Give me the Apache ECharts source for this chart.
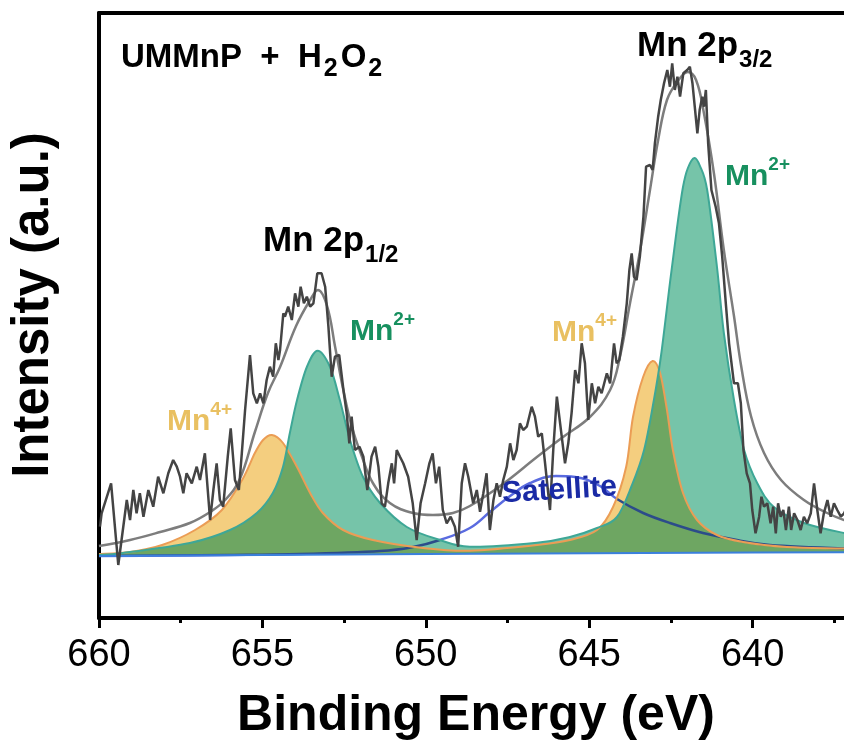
<!DOCTYPE html>
<html><head><meta charset="utf-8">
<script src="https://cdn.jsdelivr.net/npm/echarts/dist/echarts.min.js"></script>
<style>html,body{margin:0;padding:0;background:#fff}#c{width:844px;height:749px}</style>
</head><body><div id="c"></div>
<script>
// ---- data (binding energy eV, intensity a.u.) ----
const xTickValues = [660, 655, 650, 645, 640];
const baselineData = [[660,1220],[655,1240],[650,1260],[645,1275],[640,1290],[635,1300]];
const rawData = [[659.97,1806],[659.92,2074],[659.63,2674],[659.41,1040],[659.15,2340],[659.05,1940],[658.95,2540],[658.85,2074],[658.75,2474],[658.64,2006],[658.49,2540],[658.34,2206],[658.19,2806],[658.03,2474],[657.88,2874],[657.73,3140],[657.62,3006],[657.52,2806],[657.42,2474],[657.32,2874],[657.16,2674],[657.01,3006],[656.91,2740],[656.76,3274],[656.60,1940],[656.50,2540],[656.40,3074],[656.30,2340],[656.20,2206],[656.06,3206],[655.97,3774],[655.84,2740],[655.72,2540],[655.63,3274],[655.53,4140],[655.38,5240],[655.28,4474],[655.17,4274],[655.07,4474],[654.97,4274],[654.87,4740],[654.77,5006],[654.67,4806],[654.59,5474],[654.51,5140],[654.46,5340],[654.36,6074],[654.31,6006],[654.21,6206],[654.10,5940],[654.00,6474],[653.90,6206],[653.83,6606],[653.73,6274],[653.64,6406],[653.54,6206],[653.44,6274],[653.32,6874],[653.19,6874],[653.08,6606],[652.98,5806],[652.88,4806],[652.78,5206],[652.65,5240],[652.52,4540],[652.42,4074],[652.34,3474],[652.27,4006],[652.17,3340],[652.03,3406],[651.91,3206],[651.79,2540],[651.66,3206],[651.55,3406],[651.45,3006],[651.35,2274],[651.25,2206],[651.15,2674],[651.04,3074],[650.97,2674],[650.89,3340],[650.79,3206],[650.69,3074],[650.54,2806],[650.40,2274],[650.28,1540],[650.16,2274],[650.02,2674],[649.89,3074],[649.79,3274],[649.69,2674],[649.59,3006],[649.48,2140],[649.36,1874],[649.24,2006],[649.11,1806],[649.01,1406],[648.90,2674],[648.80,3074],[648.70,2806],[648.55,2274],[648.44,2540],[648.34,2106],[648.24,2474],[648.14,2874],[648.04,1740],[647.93,2340],[647.83,2674],[647.73,2406],[647.63,2740],[647.52,3006],[647.42,3474],[647.32,3140],[647.22,3340],[647.12,3874],[647.02,3740],[646.91,3806],[646.76,4206],[646.66,4006],[646.56,3606],[646.45,3674],[646.35,3074],[646.20,2140],[646.10,3340],[645.99,4406],[645.89,3874],[645.74,3074],[645.64,3474],[645.54,4074],[645.43,4940],[645.33,4674],[645.23,5474],[645.13,5074],[645.03,3940],[644.92,4674],[644.82,4274],[644.72,4606],[644.62,4474],[644.46,4874],[644.36,4674],[644.24,5474],[644.16,5074],[644.08,5140],[643.97,5606],[643.85,6274],[643.77,6940],[643.70,7274],[643.63,6806],[643.55,6740],[643.45,7206],[643.34,8006],[643.26,9006],[643.14,9040],[643.06,8940],[642.99,9474],[642.89,10006],[642.81,10340],[642.71,10674],[642.61,10940],[642.53,10606],[642.46,11074],[642.38,10540],[642.30,10806],[642.22,10406],[642.12,10874],[642.00,10940],[641.92,11006],[641.84,10674],[641.77,10206],[641.69,9674],[641.62,10140],[641.54,10406],[641.49,10206],[641.43,10540],[641.36,9474],[641.26,8540],[641.13,8206],[641.03,7874],[640.93,7206],[640.82,6274],[640.72,5474],[640.57,4674],[640.45,4674],[640.36,4274],[640.28,3340],[640.18,2874],[640.08,2674],[640.01,2140],[639.91,1674],[639.80,2006],[639.73,2406],[639.65,2206],[639.55,2274],[639.45,1874],[639.37,2206],[639.29,1674],[639.22,2274],[639.14,2006],[639.06,2140],[638.98,1740],[638.89,2206],[638.82,1740],[638.73,2074],[638.63,1940],[638.53,1740],[638.43,2006],[638.33,1874],[638.22,2074],[638.12,2674],[638.02,2140],[637.92,1674],[637.82,2074],[637.71,2340],[637.61,2006],[637.51,2274],[637.41,2140],[637.30,2006],[637.20,2074],[637.05,2300],[636.90,1950]];
const envelopeData = [[660.0,1420],[659.05,1540],[658.13,1700],[657.22,1880],[656.60,2100],[656.14,2340],[655.69,2760],[655.23,3700],[654.83,4480],[654.46,5000],[653.97,5820],[653.54,6340],[653.30,6540],[653.02,6220],[652.78,5420],[652.53,4560],[652.26,3800],[651.95,3200],[651.62,2680],[651.10,2280],[650.39,2080],[649.78,2040],[649.17,2080],[648.65,2220],[647.64,2660],[646.60,3200],[645.80,3600],[644.98,4000],[644.36,4540],[644.06,5200],[643.75,6280],[643.45,7300],[643.14,8540],[642.89,9540],[642.62,10340],[642.31,10700],[641.98,10900],[641.73,10740],[641.49,10080],[641.18,8860],[640.88,7340],[640.57,6020],[640.35,5020],[640.05,4020],[639.65,3280],[639.13,2740],[638.43,2340],[637.72,2080],[637.20,1940],[636.5,1800],[635.0,1650]];
const mn4Data = [[660.0,1260],[659.05,1300],[658.07,1440],[657.06,1740],[656.24,2140],[655.62,2740],[655.23,3280],[654.98,3540],[654.71,3640],[654.37,3480],[653.94,3000],[653.54,2480],[653.15,2080],[652.53,1740],[651.62,1540],[650.09,1380],[648.65,1326],[646.60,1440],[645.59,1540],[644.76,1740],[644.27,2200],[643.87,3000],[643.66,4000],[643.35,4800],[643.06,5120],[642.83,4880],[642.62,4140],[642.44,3340],[642.13,2480],[641.70,1940],[641.09,1640],[640.29,1500],[638.95,1400],[637.20,1370],[635.0,1340]];
const mn2Data = [[660.0,1240],[659.27,1280],[657.22,1480],[655.99,1740],[655.17,2080],[654.68,2480],[654.37,3000],[654.16,3680],[653.94,4340],[653.64,5000],[653.31,5326],[652.93,5000],[652.63,4340],[652.32,3540],[651.92,2800],[651.40,2280],[650.58,1800],[649.57,1540],[648.65,1406],[646.60,1486],[645.59,1600],[644.76,1780],[644.15,2000],[643.69,2640],[643.32,3340],[643.02,4340],[642.80,5240],[642.53,6680],[642.31,7800],[642.13,8600],[641.98,8980],[641.78,9180],[641.61,9020],[641.39,8540],[641.09,7000],[640.88,5680],[640.57,4340],[640.26,3340],[639.86,2680],[639.35,2200],[638.43,1880],[637.20,1680],[636.0,1550],[635.0,1480]];
const satelliteData = [[660.0,1220],[656.0,1240],[653.85,1260],[651.40,1320],[650.39,1400],[649.57,1540],[648.65,1780],[648.04,2100],[647.42,2420],[646.81,2680],[646.02,2820],[645.43,2800],[644.67,2620],[644.15,2360],[643.35,2080],[642.53,1880],[641.52,1680],[640.48,1540],[639.47,1440],[637.20,1370],[635.0,1340]];

// ---- styling ----
const FONT = "'Liberation Sans', Arial, sans-serif";
const COL = {
  raw: '#444444', env: '#7d7d7d', base: '#3b80dc', sat: '#5a6be0', satDark: '#2c4c8a',
  mn2Fill: '#76c4a9', mn2Line: '#3ea796', mn4Fill: '#f4ce7f', mn4Line: '#eb9d55', overlap: '#6ea662',
  green: '#17905f', yellow: '#e9c061', satText: '#1a2aa5'
};

function bezierPath(pts) {
  let d = 'M' + pts[0][0] + ',' + pts[0][1];
  for (let i = 0; i < pts.length - 1; i++) {
    const p0 = pts[i - 1] || pts[i], p1 = pts[i], p2 = pts[i + 1], p3 = pts[i + 2] || pts[i + 1];
    const t = 1 / 6;
    const c1 = [p1[0] + (p2[0] - p0[0]) * t, p1[1] + (p2[1] - p0[1]) * t];
    const c2 = [p2[0] - (p3[0] - p1[0]) * t, p2[1] - (p3[1] - p1[1]) * t];
    d += ' C' + c1[0] + ',' + c1[1] + ' ' + c2[0] + ',' + c2[1] + ' ' + p2[0] + ',' + p2[1];
  }
  return d;
}
function fillPath(data, api) {
  let d = bezierPath(data.map(p => api.coord(p)));
  baselineData.slice().reverse().forEach(p => { const c = api.coord(p); d += ' L' + c[0] + ',' + c[1]; });
  return d + ' Z';
}

const peakFitSeries = {
  type: 'custom', name: 'Peak fit', coordinateSystem: 'cartesian2d', data: mn2Data, z: 3, silent: true,
  encode: { x: 0, y: 1 },
  renderItem: function (params, api) {
    if (params.dataIndex !== 0) return null;
    const f4 = fillPath(mn4Data, api);
    const f2 = fillPath(mn2Data, api);
    const s4 = bezierPath(mn4Data.map(p => api.coord(p)));
    const s2 = bezierPath(mn2Data.map(p => api.coord(p)));
    const sat = bezierPath(satelliteData.map(p => api.coord(p)));
    return { type: 'group', children: [
      { type: 'path', shape: { pathData: f4 }, style: { fill: COL.mn4Fill, stroke: 'none' } },
      { type: 'path', shape: { pathData: f2 }, style: { fill: COL.mn2Fill, stroke: 'none' } },
      { type: 'path', shape: { pathData: f4 }, clipPath: { type: 'path', shape: { pathData: f2 } },
        style: { fill: COL.overlap, stroke: 'none' } },
      { type: 'path', shape: { pathData: sat }, clipPath: { type: 'path', shape: { pathData: f4 + ' ' + f2 } },
        style: { fill: 'none', stroke: COL.satDark, lineWidth: 2.5 } },
      { type: 'path', shape: { pathData: s4 }, style: { fill: 'none', stroke: COL.mn4Line, lineWidth: 2 } },
      { type: 'path', shape: { pathData: s2 }, style: { fill: 'none', stroke: COL.mn2Line, lineWidth: 2 } }
    ] };
  }
};

const chart = echarts.init(document.getElementById('c'), null, { renderer: 'canvas' });
const sub = (size, color, pad) => ({ fontSize: size, fontWeight: 'bold', fontFamily: FONT, lineHeight: size, verticalAlign: 'bottom', fill: color, padding: pad || [0, 1, 0, 1] });
const sup = (size, color) => ({ fontSize: size, fontWeight: 'bold', fontFamily: FONT, lineHeight: size, verticalAlign: 'top', fill: color });
const main = (size, lh, color) => ({ fontSize: size, fontWeight: 'bold', fontFamily: FONT, lineHeight: lh, fill: color });

function ionLabel(left, baseline, ion, charge, color) {
  return { type: 'text', x: left, y: baseline - 31.4, z: 100,
    style: { text: '{m|' + ion + '}{s|' + charge + '}', align: 'left', verticalAlign: 'top',
      rich: { m: main(30, 42, color), s: sup(19, color) } } };
}

chart.setOption({
  animation: false,
  backgroundColor: '#ffffff',
  textStyle: { fontFamily: FONT },
  grid: { left: 99, top: 13, bottom: 131, right: -72, containLabel: false, outerBoundsMode: 'none' },
  xAxis: [{
    type: 'value', inverse: true, min: 635, max: 660, interval: 5, position: 'bottom',
    axisLine: { onZero: false, lineStyle: { color: '#000', width: 4 } },
    axisTick: { show: true, length: 10, lineStyle: { color: '#000', width: 3 } },
    minorTick: { show: true, splitNumber: 2, length: 5, lineStyle: { color: '#000', width: 3 } },
    axisLabel: { color: '#000', fontSize: 38, fontFamily: FONT, margin: 19,
      formatter: v => (xTickValues.indexOf(v) >= 0 ? String(v) : '') },
    splitLine: { show: false }, minorSplitLine: { show: false }
  }, {
    type: 'value', inverse: true, min: 635, max: 660, position: 'top',
    axisLine: { onZero: false, lineStyle: { color: '#000', width: 4 } },
    axisTick: { show: false }, axisLabel: { show: false }, splitLine: { show: false }
  }],
  yAxis: {
    type: 'value', min: -20, max: 12080,
    axisLine: { show: true, onZero: false, lineStyle: { color: '#000', width: 4 } },
    axisTick: { show: false }, axisLabel: { show: false }, splitLine: { show: false }
  },
  series: [
    { type: 'line', name: 'Satellite', data: satelliteData, showSymbol: false, symbol: 'none', smooth: 0.4, z: 2,
      lineStyle: { color: COL.sat, width: 2.5 } },
    peakFitSeries,
    { type: 'line', name: 'Background', data: baselineData, showSymbol: false, symbol: 'none', z: 4,
      lineStyle: { color: COL.base, width: 2 } },
    { type: 'line', name: 'Envelope', data: envelopeData, showSymbol: false, symbol: 'none', smooth: 0.4, z: 5,
      lineStyle: { color: COL.env, width: 2.5 } },
    { type: 'line', name: 'Raw', data: rawData, showSymbol: false, symbol: 'none', z: 6,
      lineStyle: { color: COL.raw, width: 2.5 } }
  ],
  graphic: [
    { type: 'text', x: 34, y: 305, rotation: Math.PI / 2, z: 100,
      style: { text: 'Intensity (a.u.)', fontSize: 51, fontWeight: 'bold', fontFamily: FONT, fill: '#000', align: 'center', verticalAlign: 'middle' } },
    { type: 'text', x: 476, y: 716, z: 100,
      style: { text: 'Binding Energy (eV)', fontSize: 50, fontWeight: 'bold', fontFamily: FONT, fill: '#000', align: 'center', verticalAlign: 'middle' } },
    { type: 'text', x: 121, y: 34, z: 100,
      style: { text: '{m|UMMnP  +  H}{s|2}{m|O}{s|2}', align: 'left', verticalAlign: 'top',
        rich: { m: main(33, 48, '#000'), s: sub(25, '#000', [0, 3, 0, 2]) } } },
    { type: 'text', x: 637, y: 20, z: 100,
      style: { text: '{m|Mn 2p}{s|3/2}', align: 'left', verticalAlign: 'top',
        rich: { m: main(35, 52, '#000'), s: sub(24, '#000') } } },
    { type: 'text', x: 263, y: 215, z: 100,
      style: { text: '{m|Mn 2p}{s|1/2}', align: 'left', verticalAlign: 'top',
        rich: { m: main(35, 52, '#000'), s: sub(24, '#000') } } },
    ionLabel(725, 187, 'Mn', '2+', COL.green),
    ionLabel(350, 342, 'Mn', '2+', COL.green),
    ionLabel(167, 432, 'Mn', '4+', COL.yellow),
    ionLabel(552, 343, 'Mn', '4+', COL.yellow),
    { type: 'text', x: 502, y: 494, rotation: 0.06, z: 100,
      style: { text: 'Satellite', fontSize: 30, fontWeight: 'bold', fontFamily: FONT, fill: COL.satText, align: 'left', verticalAlign: 'middle' } }
  ]
});
</script>
</body></html>
